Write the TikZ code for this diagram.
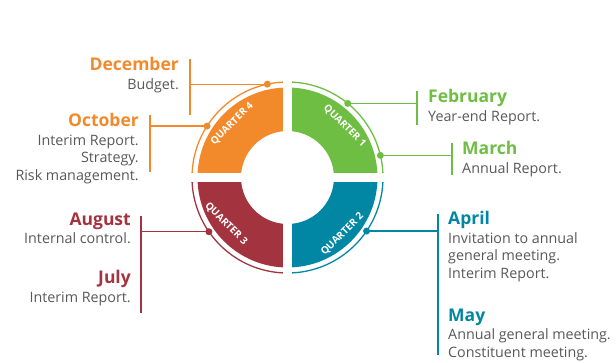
\documentclass[tikz,border=0pt]{standalone}
\usepackage{fontspec}
\setmainfont{Open Sans}
\usetikzlibrary{positioning}

\definecolor{qorange}{HTML}{F28A2C}
\definecolor{qgreen}{HTML}{6FBE44}
\definecolor{qteal}{HTML}{0187A3}
\definecolor{qred}{HTML}{A3343F}
\definecolor{txtgray}{HTML}{585858}

% 月份标题
\newcommand{\mhead}[2]{{\fontsize{17.5}{19}\selectfont\bfseries\color{#1}#2}}

\tikzset{
    month/.style={inner sep=0pt, text=txtgray, font=\fontsize{14.3}{17.5}\selectfont},
    dot/.style={circle, fill=#1, inner sep=0pt, minimum size=7pt},
    link/.style={draw=#1, line width=1.1pt},
    qlabel/.style={text=white, font=\fontsize{10}{11}\selectfont\bfseries, inner sep=0pt}
}

\begin{document}
\begin{tikzpicture}[x=1pt, y=1pt]
    \useasboundingbox (0,0) rectangle (616,362);
    % 1. 定义坐标
    \coordinate (C) at (287.5,184.5);
    \def\rin{46.5}
    \def\rout{90}
    \def\rarc{95.5}

    % 2. 四个季度扇环
    \fill[qgreen]  ([shift={(0:\rout)}]C) arc[start angle=0, end angle=90, radius=\rout]
        -- ([shift={(90:\rin)}]C) arc[start angle=90, end angle=0, radius=\rin] -- cycle;
    \fill[qorange] ([shift={(90:\rout)}]C) arc[start angle=90, end angle=180, radius=\rout]
        -- ([shift={(180:\rin)}]C) arc[start angle=180, end angle=90, radius=\rin] -- cycle;
    \fill[qred]    ([shift={(180:\rout)}]C) arc[start angle=180, end angle=270, radius=\rout]
        -- ([shift={(270:\rin)}]C) arc[start angle=270, end angle=180, radius=\rin] -- cycle;
    \fill[qteal]   ([shift={(270:\rout)}]C) arc[start angle=270, end angle=360, radius=\rout]
        -- ([shift={(360:\rin)}]C) arc[start angle=360, end angle=270, radius=\rin] -- cycle;

    % 外圈细弧
    \draw[qgreen,  line width=1.3pt] ([shift={(0:\rarc)}]C)   arc[start angle=0,   end angle=90,  radius=\rarc];
    \draw[qorange, line width=1.3pt] ([shift={(90:\rarc)}]C)  arc[start angle=90,  end angle=180, radius=\rarc];
    \draw[qred,    line width=1.3pt] ([shift={(180:\rarc)}]C) arc[start angle=180, end angle=270, radius=\rarc];
    \draw[qteal,   line width=1.3pt] ([shift={(270:\rarc)}]C) arc[start angle=270, end angle=360, radius=\rarc];

    % 十字白缝
    \draw[white, line width=9pt] ([yshift=-102]C) -- ([yshift=102]C);
    \draw[white, line width=9pt] ([xshift=-102]C) -- ([xshift=102]C);

    % 3. 季度标签
    \node[qlabel, rotate=-45] (q1) at ([shift={(42:77)}]C)  {QUARTER 1};
    \node[qlabel, rotate=45]  (q2) at ([shift={(-46:79)}]C) {QUARTER 2};
    \node[qlabel, rotate=-45] (q3) at ([shift={(217:77)}]C) {QUARTER 3};
    \node[qlabel, rotate=45]  (q4) at ([shift={(136:77)}]C) {QUARTER 4};

    % 4. 圆点
    \node[dot=qorange] (decdot) at ([shift={(102.2:\rarc)}]C) {};
    \node[dot=qorange] (octdot) at ([shift={(147.4:\rarc)}]C) {};
    \node[dot=qgreen]  (febdot) at ([shift={(50.9:\rarc)}]C)  {};
    \node[dot=qgreen]  (mardot) at ([shift={(13.4:\rarc)}]C)  {};
    \node[dot=qteal]   (aprdot) at ([shift={(-34.1:\rarc)}]C) {};
    \node[dot=qred]    (augdot) at ([shift={(214.6:\rarc)}]C) {};

    % 5. 竖线端点
    \coordinate (dectop) at (190,303); \coordinate (decbot) at (190,247);
    \coordinate (octtop) at (150,247); \coordinate (octbot) at (150,190);
    \coordinate (febtop) at (417,271); \coordinate (febbot) at (417,237);
    \coordinate (martop) at (452,219); \coordinate (marbot) at (452,187);
    \coordinate (aprtop) at (438,148); \coordinate (aprbot) at (438,7);
    \coordinate (augtop) at (141,146); \coordinate (augbot) at (141,49);

    % 6. 连线
    \draw[link=qorange] (dectop) -- (decbot);
    \draw[link=qorange] (decdot.center) -- (decdot.center -| dectop);
    \draw[link=qorange] (octtop) -- (octbot);
    \draw[link=qorange] (octdot.center) -- (octdot.center -| octtop);
    \draw[link=qgreen]  (febtop) -- (febbot);
    \draw[link=qgreen]  (febdot.center) -- (febdot.center -| febtop);
    \draw[link=qgreen]  (martop) -- (marbot);
    \draw[link=qgreen]  (mardot.center) -- (mardot.center -| martop);
    \draw[link=qteal]   (aprtop) -- (aprbot);
    \draw[link=qteal]   (aprdot.center) -- (aprdot.center -| aprtop);
    \draw[link=qred]    (augtop) -- (augbot);
    \draw[link=qred]    (augdot.center) -- (augdot.center -| augtop);

    % 7. 文字说明
    \node[month, align=right, anchor=north east] (dec) at (179,304.5)
        {\mhead{qorange}{December}\\[1pt]Budget.};
    \node[month, align=right, anchor=north east] (oct) at (139,248.5)
        {\mhead{qorange}{October}\\[1pt]Interim Report.\\Strategy.\\Risk management.};
    \node[month, align=left, anchor=north west] (feb) at (428,272.5)
        {\mhead{qgreen}{February}\\[1pt]Year-end Report.};
    \node[month, align=left, anchor=north west] (mar) at (462,220.5)
        {\mhead{qgreen}{March}\\[1pt]Annual Report.};
    \node[month, align=left, anchor=north west] (apr) at (448,150.5)
        {\mhead{qteal}{April}\\[1pt]Invitation to annual\\general meeting.\\Interim Report.};
    \node[month, align=left, anchor=north west] (may) at (448,53.5)
        {\mhead{qteal}{May}\\[1pt]Annual general meeting.\\Constituent meeting.};
    \node[month, align=right, anchor=north east] (aug) at (131,149.5)
        {\mhead{qred}{August}\\[1pt]Internal control.};
    \node[month, align=right, anchor=north east] (jul) at (131,91.5)
        {\mhead{qred}{July}\\[1pt]Interim Report.};
\end{tikzpicture}
\end{document}
